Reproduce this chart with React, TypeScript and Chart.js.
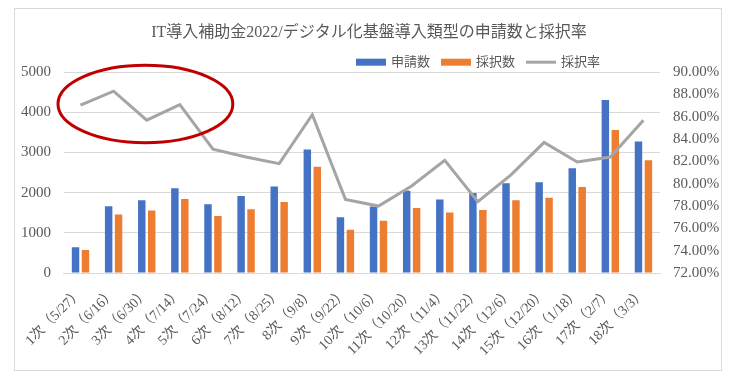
import React, { useEffect, useRef } from 'react';
import { Chart, registerables } from 'chart.js';

Chart.register(...registerables);

const TITLE = 'IT導入補助金2022/デジタル化基盤導入類型の申請数と採択率';

const categories = [
  '1次（5/27）', '2次（6/16）', '3次（6/30）', '4次（7/14）', '5次（7/24）', '6次（8/12）',
  '7次（8/25）', '8次（9/8）', '9次（9/22）', '10次（10/6）', '11次（10/20）', '12次（11/4）',
  '13次（11/22）', '14次（12/6）', '15次（12/20）', '16次（1/18）', '17次（2/7）', '18次（3/3）',
];

const applications = [640, 1660, 1810, 2110, 1710, 1920, 2155, 3075, 1390, 1655, 2050, 1830, 1995, 2235, 2260, 2610, 4310, 3275];
const adopted = [570, 1455, 1555, 1845, 1420, 1590, 1765, 2645, 1075, 1300, 1620, 1505, 1570, 1810, 1875, 2140, 3560, 2805];
const adoptionRate = [87.05, 88.3, 85.7, 87.1, 83.1, 82.4, 81.8, 86.2, 78.6, 78.0, 79.8, 82.1, 78.4, 80.8, 83.7, 81.95, 82.4, 85.7];

const seriesNames = ['申請数', '採択数', '採択率'];

// highlighted region (category index range, count range)
const highlightX = [-0.68, 4.6];
const highlightY = [3245, 5175];

const FONT = "'Liberation Serif', 'Noto Sans CJK JP', serif";
const TEXT = '#595959';
const GRID = '#d9d9d9';

const legendPlugin = {
  id: 'excelLegend',
  afterDraw(chart: any) {
    const { ctx, chartArea } = chart;
    ctx.save();
    ctx.font = `13px ${FONT}`;
    ctx.textBaseline = 'middle';
    const y = chartArea.top - 10;
    const items = chart.data.datasets.map((ds: any) => ({
      label: ds.label,
      color: ds.type === 'line' ? ds.borderColor : ds.backgroundColor,
      line: ds.type === 'line',
    }));
    const symW = 30;
    const gap = 5;
    const itemGap = 11;
    let total = 0;
    items.forEach((it: any, i: number) => {
      total += symW + gap + ctx.measureText(it.label).width + (i < items.length - 1 ? itemGap : 0);
    });
    let x = chartArea.right - 60 - total;
    items.forEach((it: any) => {
      if (it.line) {
        ctx.strokeStyle = it.color;
        ctx.lineWidth = 3;
        ctx.beginPath();
        ctx.moveTo(x, y);
        ctx.lineTo(x + symW, y);
        ctx.stroke();
      } else {
        ctx.fillStyle = it.color;
        ctx.fillRect(x, y - 3.5, symW, 7);
      }
      x += symW + gap;
      ctx.fillStyle = TEXT;
      ctx.textAlign = 'left';
      ctx.fillText(it.label, x, y);
      x += ctx.measureText(it.label).width + itemGap;
    });
    ctx.restore();
  },
};

const ellipsePlugin = {
  id: 'highlightEllipse',
  afterDraw(chart: any) {
    const { ctx } = chart;
    const xs = chart.scales.x;
    const ys = chart.scales.y;
    const x0 = xs.getPixelForValue(highlightX[0]);
    const x1 = xs.getPixelForValue(highlightX[1]);
    const y0 = ys.getPixelForValue(highlightY[0]);
    const y1 = ys.getPixelForValue(highlightY[1]);
    ctx.save();
    ctx.strokeStyle = '#c00000';
    ctx.lineWidth = 3;
    ctx.beginPath();
    ctx.ellipse((x0 + x1) / 2, (y0 + y1) / 2, Math.abs(x1 - x0) / 2, Math.abs(y1 - y0) / 2, 0, 0, Math.PI * 2);
    ctx.stroke();
    ctx.restore();
  },
};

export default function App() {
  const ref = useRef<HTMLCanvasElement | null>(null);

  useEffect(() => {
    if (!ref.current) return;
    const chart = new Chart(ref.current, {
      data: {
        labels: categories,
        datasets: [
          {
            type: 'bar',
            label: seriesNames[0],
            data: applications,
            backgroundColor: '#4472C4',
            yAxisID: 'y',
            order: 2,
            categoryPercentage: 0.6,
            barPercentage: 0.75,
          },
          {
            type: 'bar',
            label: seriesNames[1],
            data: adopted,
            backgroundColor: '#ED7D31',
            yAxisID: 'y',
            order: 2,
            categoryPercentage: 0.6,
            barPercentage: 0.75,
          },
          {
            type: 'line',
            label: seriesNames[2],
            data: adoptionRate,
            borderColor: '#A5A5A5',
            backgroundColor: '#A5A5A5',
            borderWidth: 3,
            pointRadius: 0,
            tension: 0,
            yAxisID: 'y1',
            order: 1,
          },
        ],
      } as any,
      options: {
        animation: false,
        responsive: true,
        maintainAspectRatio: false,
        layout: { padding: { top: 4, left: 2, right: 0, bottom: 0 } },
        plugins: {
          legend: { display: false },
          tooltip: { enabled: false },
          title: {
            display: true,
            text: TITLE,
            color: TEXT,
            font: { family: FONT, size: 16, weight: 'normal' },
            padding: { top: 10, bottom: 30 },
          },
        },
        scales: {
          x: {
            afterFit: (s: any) => { s.height = 97; },
            grid: { display: false, drawTicks: false },
            border: { display: true, color: GRID },
            ticks: {
              minRotation: 45,
              maxRotation: 45,
              autoSkip: false,
              color: TEXT,
              font: { family: FONT, size: 14 },
              padding: 12,
            },
          },
          y: {
            position: 'left',
            min: 0,
            max: 5000,
            afterFit: (s: any) => { s.width = 43; },
            ticks: {
              stepSize: 1000,
              color: TEXT,
              font: { family: FONT, size: 15 },
              padding: 13,
              callback: (v: any) => String(v),
            },
            grid: { color: GRID, drawTicks: false },
            border: { display: false },
          },
          y1: {
            position: 'right',
            min: 72,
            max: 90,
            afterFit: (s: any) => { s.width = 61; },
            ticks: {
              stepSize: 2,
              color: TEXT,
              font: { family: FONT, size: 15 },
              padding: 13,
              callback: (v: any) => Number(v).toFixed(2) + '%',
            },
            grid: { display: false, drawTicks: false },
            border: { display: false },
          },
        },
      } as any,
      plugins: [legendPlugin, ellipsePlugin],
    });
    return () => chart.destroy();
  }, []);

  return (
    <div
      style={{
        position: 'absolute',
        left: 14,
        top: 8,
        width: 708,
        height: 363,
        border: '1px solid #d9d9d9',
        boxSizing: 'border-box',
        background: '#fff',
      }}
    >
      <div style={{ position: 'relative', width: '100%', height: '100%' }}>
        <canvas ref={ref} />
      </div>
    </div>
  );
}
